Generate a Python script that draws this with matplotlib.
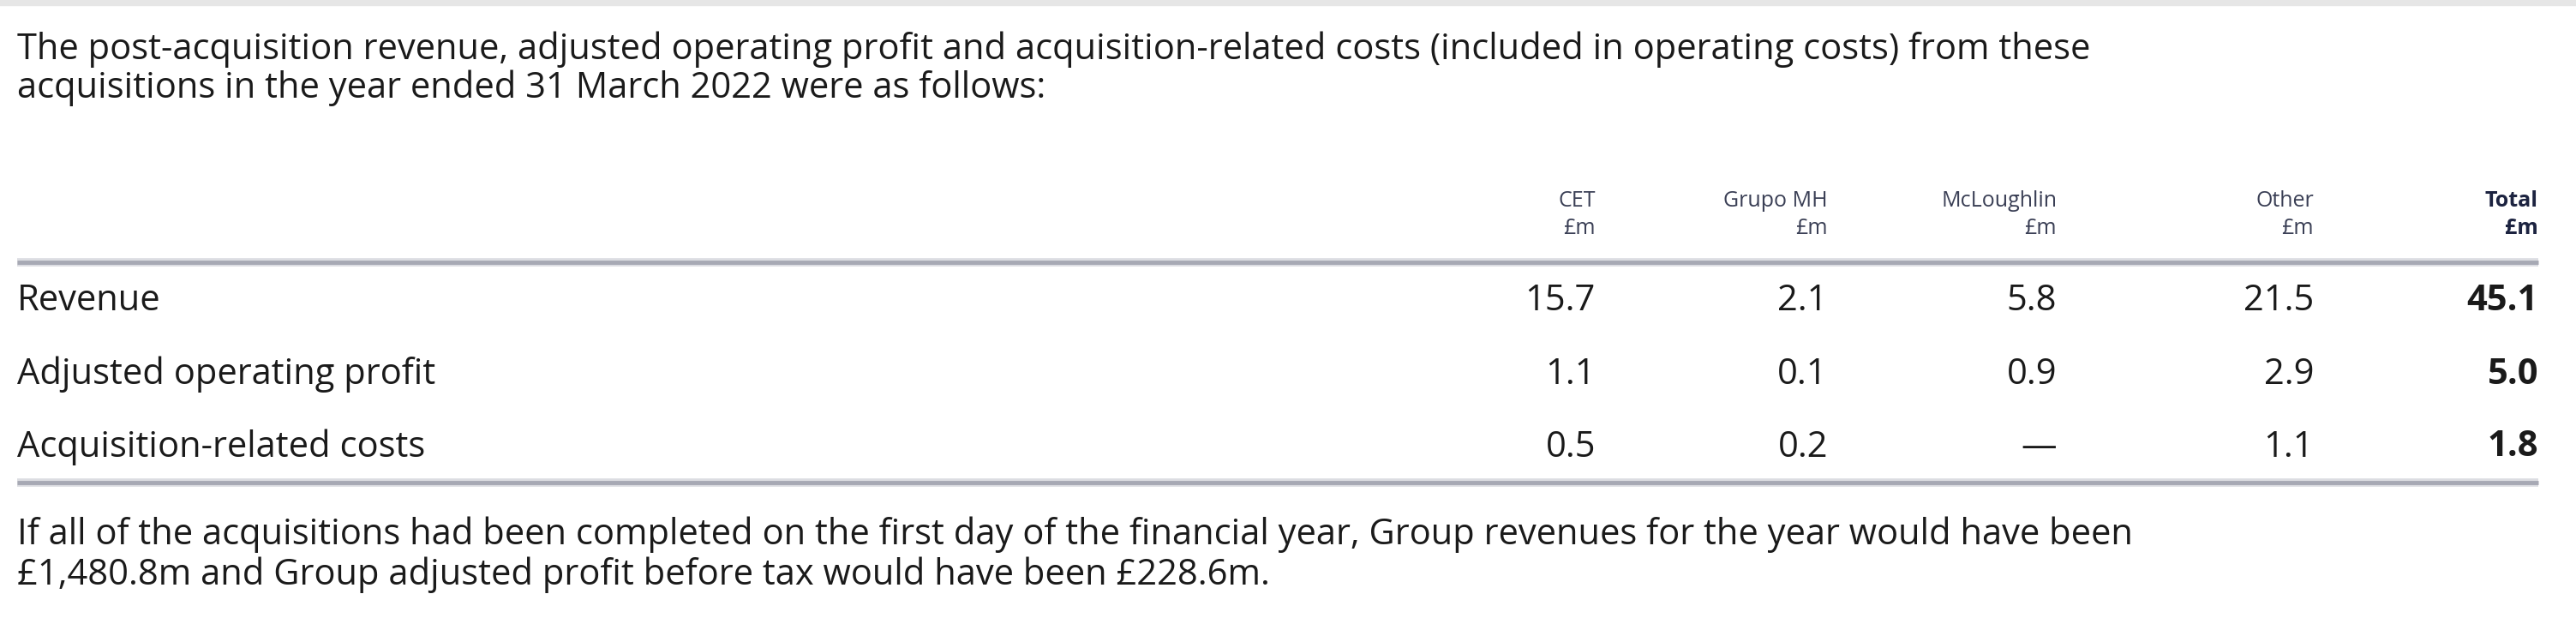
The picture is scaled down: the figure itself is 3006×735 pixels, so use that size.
import matplotlib
matplotlib.use("Agg")
import matplotlib.pyplot as plt

intro = ["The post-acquisition revenue, adjusted operating profit and acquisition-related costs (included in operating costs) from these",
         "acquisitions in the year ended 31 March 2022 were as follows:"]
columns = ["CET", "Grupo MH", "McLoughlin", "Other", "Total"]
units = ["£m", "£m", "£m", "£m", "£m"]
rows = ["Revenue", "Adjusted operating profit", "Acquisition-related costs"]
values = [["15.7", "2.1", "5.8", "21.5", "45.1"],
          ["1.1", "0.1", "0.9", "2.9", "5.0"],
          ["0.5", "0.2", "—", "1.1", "1.8"]]
footer = ["If all of the acquisitions had been completed on the first day of the financial year, Group revenues for the year would have been",
          "£1,480.8m and Group adjusted profit before tax would have been £228.6m."]

W, H = 3006, 735
fig = plt.figure(figsize=(W/100, H/100), dpi=100)
ax = fig.add_axes([0, 0, 1, 1])
ax.set_xlim(0, W); ax.set_ylim(H, 0); ax.axis("off")
fam = ["Open Sans", "DejaVu Sans"]
dark = "#1a1a1a"
fs = 30
ax.axhline(3, color="#e6e6e6", lw=6)
for i, t in enumerate(intro):
    ax.text(20, 58 + 45*i, t, fontsize=fs, family=fam, color=dark, va="center")
xs = [1862, 2133, 2400, 2700, 2962]
for j, (c, u) in enumerate(zip(columns, units)):
    wt = "bold" if j == 4 else "normal"
    col = "#1c2340" if j == 4 else "#3a3f55"
    ax.text(xs[j], 234, c, fontsize=18, family=fam, ha="right", va="center", color=col, weight=wt)
    ax.text(xs[j], 266, u, fontsize=18, family=fam, ha="right", va="center", color=col, weight=wt)
for y in (306, 563):
    ax.plot([20, 2962], [y, y], color="#dcdde2", lw=7, solid_capstyle="butt")
    ax.plot([20, 2962], [y, y], color="#a7a9b4", lw=3.5, solid_capstyle="butt")
ys = [351, 437, 522]
for i, r in enumerate(rows):
    ax.text(20, ys[i], r, fontsize=fs, family=fam, color=dark, va="center")
    for j, v in enumerate(values[i]):
        ax.text(xs[j], ys[i], v, fontsize=fs, family=fam, color=dark, ha="right", va="center",
                weight="bold" if j == 4 else "normal")
for i, t in enumerate(footer):
    ax.text(20, 624 + 47*i, t, fontsize=fs, family=fam, color=dark, va="center")
fig.savefig("out.png", dpi=100, facecolor="white")
